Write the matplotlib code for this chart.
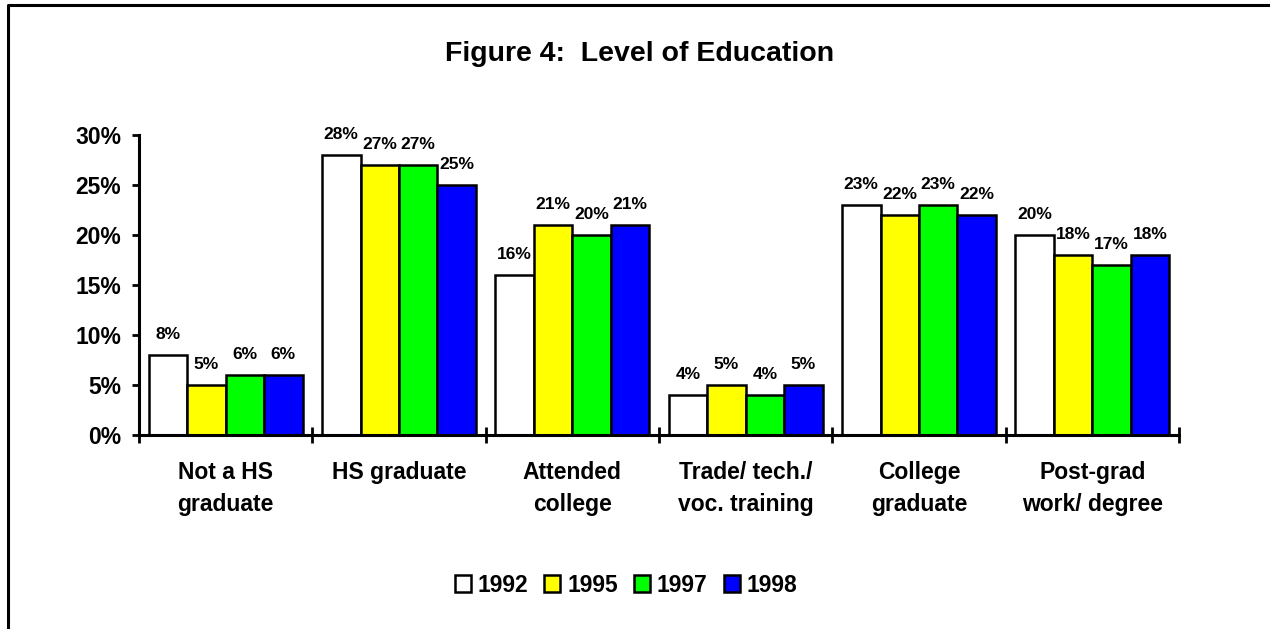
import matplotlib
matplotlib.use("Agg")
import matplotlib.pyplot as plt
from matplotlib.lines import Line2D
from matplotlib.patches import Patch
import numpy as np

plt.rcParams['font.family'] = ['Liberation Sans', 'DejaVu Sans']
plt.rcParams['font.weight'] = 'bold'

categories = ["Not a HS\ngraduate", "HS graduate", "Attended\ncollege",
              "Trade/ tech./\nvoc. training", "College\ngraduate", "Post-grad\nwork/ degree"]
years = ["1992", "1995", "1997", "1998"]
v1992 = [8, 28, 16, 4, 23, 20]
v1995 = [5, 27, 21, 5, 22, 18]
v1997 = [6, 27, 20, 4, 23, 17]
v1998 = [6, 25, 21, 5, 22, 18]
series = [v1992, v1995, v1997, v1998]
colors = ["#FFFFFF", "#FFFF00", "#00FF00", "#0000FF"]
yticks = [0, 5, 10, 15, 20, 25, 30]

W, H = 1270, 629
fig = plt.figure(figsize=(W / 100, H / 100), dpi=100)
ax = fig.add_axes([139 / W, 1 - 435 / H, (1179 - 139) / W, (435 - 135) / H])

n = len(categories)
bw = 0.222
centers = np.arange(n) + 0.5
for k, (vals, c) in enumerate(zip(series, colors)):
    xs = centers + (k - 1.5) * bw
    ax.bar(xs, vals, width=bw, color=c, edgecolor="black", linewidth=1.8,
           label=years[k], zorder=2)
    for x, v in zip(xs, vals):
        ax.annotate(f"{v}%", xy=(x, v), xytext=(0, 11.5), textcoords="offset points",
                    ha="center", va="baseline", fontsize=12.5, fontweight="bold")

ax.set_xlim(0, n)
ax.set_ylim(0, 30)
ax.set_yticks(yticks)
ax.set_yticklabels([f"{t}%" for t in yticks])
ax.set_xticks(np.arange(n + 1))
ax.set_xticklabels([])
ax.set_xticks(centers, minor=True)
ax.set_xticklabels(categories, minor=True, fontsize=16.5, fontweight="bold", linespacing=1.5)
ax.tick_params(axis="x", which="major", direction="inout", length=11, width=2)
ax.tick_params(axis="x", which="minor", length=0, pad=19)
ax.tick_params(axis="y", direction="out", length=5, width=2, pad=8, labelsize=16.5)
for lab in ax.get_yticklabels():
    lab.set_fontweight("bold")
for s in ["top", "right"]:
    ax.spines[s].set_visible(False)
for s in ["left", "bottom"]:
    ax.spines[s].set_linewidth(2.2)
ax.set_facecolor("white")

fig.text(640 / W, 1 - 54 / H, "Figure 4:  Level of Education", ha="center", va="center",
         fontsize=20.5, fontweight="bold")

handles = [Patch(facecolor=c, edgecolor="black", linewidth=1.8) for c in colors]
fig.legend(handles, years, loc="center", bbox_to_anchor=(626 / W, 1 - 585 / H), ncol=4,
           frameon=False, handlelength=0.7, handleheight=0.7,
           handletextpad=0.3, columnspacing=0.7, prop={"weight": "bold", "size": 16.5})

fig.add_artist(Line2D([8 / W, 8 / W, 1.0], [0.0, 1 - 5 / H, 1 - 5 / H],
                      transform=fig.transFigure, color="black", linewidth=2.2))

fig.savefig("out.png", dpi=100)
